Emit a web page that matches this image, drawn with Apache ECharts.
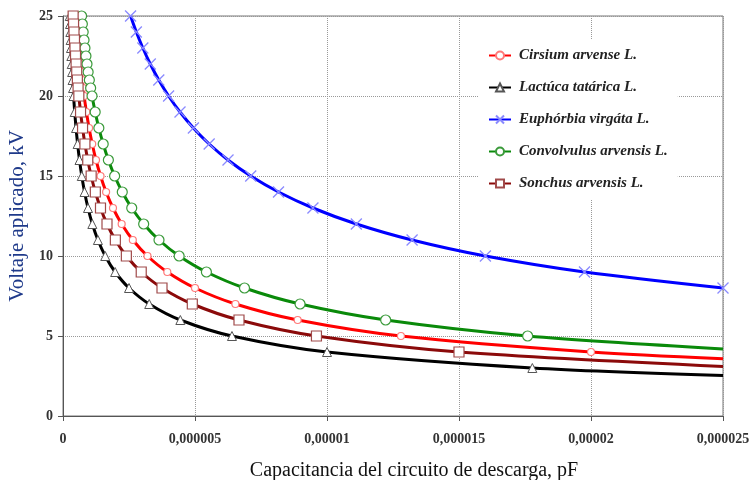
<!DOCTYPE html>
<html>
<head>
<meta charset="utf-8">
<script src="https://cdn.jsdelivr.net/npm/echarts@6/dist/echarts.min.js"></script>
<style>html,body{margin:0;padding:0;background:#fff}#chart{width:752px;height:480px}</style>
</head>
<body>
<div id="chart"></div>
<script>
// ---- Data ----
const seriesNames = ['Cirsium arvense L.', 'Lactúca tatárica L.', 'Euphórbia virgáta L.', 'Convolvulus arvensis L.', 'Sonchus arvensis L.'];

// Capacitance (pF) and applied voltage (kV); last entry of some series is the line end (no marker)
const cirsiumC = [0.512e-6,0.5331e-6,0.5556e-6,0.5794e-6,0.6049e-6,0.6321e-6,0.6612e-6,0.6923e-6,0.7256e-6,0.7615e-6,0.8e-6,0.8864e-6,0.9877e-6,1.1073e-6,1.25e-6,1.4222e-6,1.6327e-6,1.8935e-6,2.2222e-6,2.6446e-6,3.2e-6,3.9506e-6,5.0e-6,6.5306e-6,8.8889e-6,12.8e-6,20.0e-6,25.0e-6];
const cirsiumV = [25,24.5,24,23.5,23,22.5,22,21.5,21,20.5,20,19,18,17,16,15,14,13,12,11,10,9,8,7,6,5,4,3.578];

const lactucaC = [0.256e-6,0.2666e-6,0.2778e-6,0.2897e-6,0.3025e-6,0.3160e-6,0.3306e-6,0.3461e-6,0.3628e-6,0.3807e-6,0.4e-6,0.4432e-6,0.4938e-6,0.5536e-6,0.625e-6,0.7111e-6,0.8163e-6,0.9467e-6,1.1111e-6,1.3223e-6,1.6e-6,1.9753e-6,2.5e-6,3.2653e-6,4.4444e-6,6.4e-6,10.0e-6,17.7778e-6,25.0e-6];
const lactucaV = [25,24.5,24,23.5,23,22.5,22,21.5,21,20.5,20,19,18,17,16,15,14,13,12,11,10,9,8,7,6,5,4,3,2.53];

const euphorbiaC = [2.56e-6,2.7778e-6,3.0246e-6,3.3058e-6,3.6281e-6,4.0e-6,4.4321e-6,4.9383e-6,5.5363e-6,6.25e-6,7.1111e-6,8.1633e-6,9.4675e-6,11.1111e-6,13.2231e-6,16.0e-6,19.7531e-6,25.0e-6];
const euphorbiaV = [25,24,23,22,21,20,19,18,17,16,15,14,13,12,11,10,9,8];

const convolvulusC = [0.704e-6,0.7330e-6,0.7639e-6,0.7967e-6,0.8318e-6,0.8691e-6,0.9091e-6,0.9519e-6,0.9977e-6,1.047e-6,1.1e-6,1.2188e-6,1.358e-6,1.5225e-6,1.7188e-6,1.9556e-6,2.2449e-6,2.6036e-6,3.0556e-6,3.6364e-6,4.4e-6,5.4321e-6,6.875e-6,8.9796e-6,12.2222e-6,17.6e-6,25.0e-6];
const convolvulusV = [25,24.5,24,23.5,23,22.5,22,21.5,21,20.5,20,19,18,17,16,15,14,13,12,11,10,9,8,7,6,5,4.195];

const sonchusC = [0.384e-6,0.3998e-6,0.4167e-6,0.4346e-6,0.4537e-6,0.4741e-6,0.4959e-6,0.5192e-6,0.5442e-6,0.5711e-6,0.6e-6,0.6648e-6,0.7407e-6,0.8304e-6,0.9375e-6,1.0667e-6,1.2245e-6,1.4201e-6,1.6667e-6,1.9835e-6,2.4e-6,2.963e-6,3.75e-6,4.898e-6,6.6667e-6,9.6e-6,15.0e-6,25.0e-6];
const sonchusV = [25,24.5,24,23.5,23,22.5,22,21.5,21,20.5,20,19,18,17,16,15,14,13,12,11,10,9,8,7,6,5,4,3.098];

// whether the last entry carries a marker
const lastHasMarker = [false, false, true, false, false];

const xTickLabels = ['0','0,000005','0,00001','0,000015','0,00002','0,000025'];
const yTickLabels = ['0','5','10','15','20','25'];

// ---- Build chart ----
function pairs(cs, vs, markLast) {
  return cs.map((c, i) => {
    if (i === cs.length - 1 && !markLast) return { value: [c, vs[i]], symbol: 'none' };
    return [c, vs[i]];
  });
}

const styles = [
  { line: '#ff0000', symbol: 'circle', size: 7, fill: '#ffffff', border: '#ff7a7a', bw: 1.2 },
  { line: '#000000', symbol: 'triangle', size: 9, fill: '#ffffff', border: '#555555', bw: 1 },
  { line: '#0000ff', symbol: 'path://M0,0L10,10M10,0L0,10', size: 11, fill: 'rgba(0,0,0,0)', border: '#8a8aff', bw: 1.3 },
  { line: '#0a8a0a', symbol: 'circle', size: 10, fill: '#ffffff', border: '#3a9a3a', bw: 1.2 },
  { line: '#8b0a0a', symbol: 'rect', size: 10, fill: '#ffffff', border: '#a04a4a', bw: 1.2 }
];

const dataSets = [
  pairs(cirsiumC, cirsiumV, lastHasMarker[0]),
  pairs(lactucaC, lactucaV, lastHasMarker[1]),
  pairs(euphorbiaC, euphorbiaV, lastHasMarker[2]),
  pairs(convolvulusC, convolvulusV, lastHasMarker[3]),
  pairs(sonchusC, sonchusV, lastHasMarker[4])
];

const serif = "'Liberation Serif', 'DejaVu Serif', serif";

const chart = echarts.init(document.getElementById('chart'), null, { renderer: 'canvas' });
chart.setOption({
  animation: false,
  backgroundColor: '#ffffff',
  grid: { left: 63, right: 29, top: 16, bottom: 64, show: true, borderColor: '#777', borderWidth: 1,
          containLabel: false, outerBoundsMode: 'none' },
  legend: {
    orient: 'vertical',
    left: 478, top: 40,
    padding: [8, 10, 8, 10],
    backgroundColor: '#ffffff',
    itemWidth: 22, itemHeight: 10, itemGap: 17,
    textStyle: { fontFamily: serif, fontStyle: 'italic', fontWeight: 'bold', fontSize: 15, color: '#222', padding: [0, 0, 0, 3] },
    data: seriesNames
  },
  xAxis: {
    type: 'value', min: 0, max: 25e-6, interval: 5e-6,
    axisLine: { show: true, lineStyle: { color: '#555', width: 1 } },
    axisTick: { show: true, length: 5, lineStyle: { color: '#555' } },
    splitLine: { show: true, lineStyle: { color: '#999', type: 'dotted', width: 1 } },
    axisLabel: { margin: 16, fontFamily: serif, fontWeight: 'bold', fontSize: 14, color: '#333',
      formatter: (v, i) => xTickLabels[i] },
    name: 'Capacitancia del circuito de descarga, pF',
    nameLocation: 'middle', nameGap: 45,
    nameTextStyle: { fontFamily: serif, fontSize: 20, color: '#111', padding: [0, 0, 0, 42] }
  },
  yAxis: {
    type: 'value', min: 0, max: 25, interval: 5,
    axisLine: { show: true, lineStyle: { color: '#555', width: 1 } },
    axisTick: { show: true, length: 5, lineStyle: { color: '#555' } },
    splitLine: { show: true, lineStyle: { color: '#999', type: 'dotted', width: 1 } },
    axisLabel: { margin: 10, fontFamily: serif, fontWeight: 'bold', fontSize: 14, color: '#333',
      formatter: (v, i) => yTickLabels[i] },
    name: 'Voltaje aplicado, kV',
    nameLocation: 'middle', nameGap: 30,
    nameTextStyle: { fontFamily: serif, fontSize: 21, color: '#1f3a8a' }
  },
  series: seriesNames.map((name, i) => ({
    name: name,
    type: 'line',
    data: dataSets[i],
    smooth: 0.3,
    showAllSymbol: true,
    symbol: styles[i].symbol,
    symbolSize: styles[i].size,
    lineStyle: { color: styles[i].line, width: 3 },
    itemStyle: { color: styles[i].fill, borderColor: styles[i].border, borderWidth: styles[i].bw },
    z: 2 + i
  }))
});
</script>
</body>
</html>
